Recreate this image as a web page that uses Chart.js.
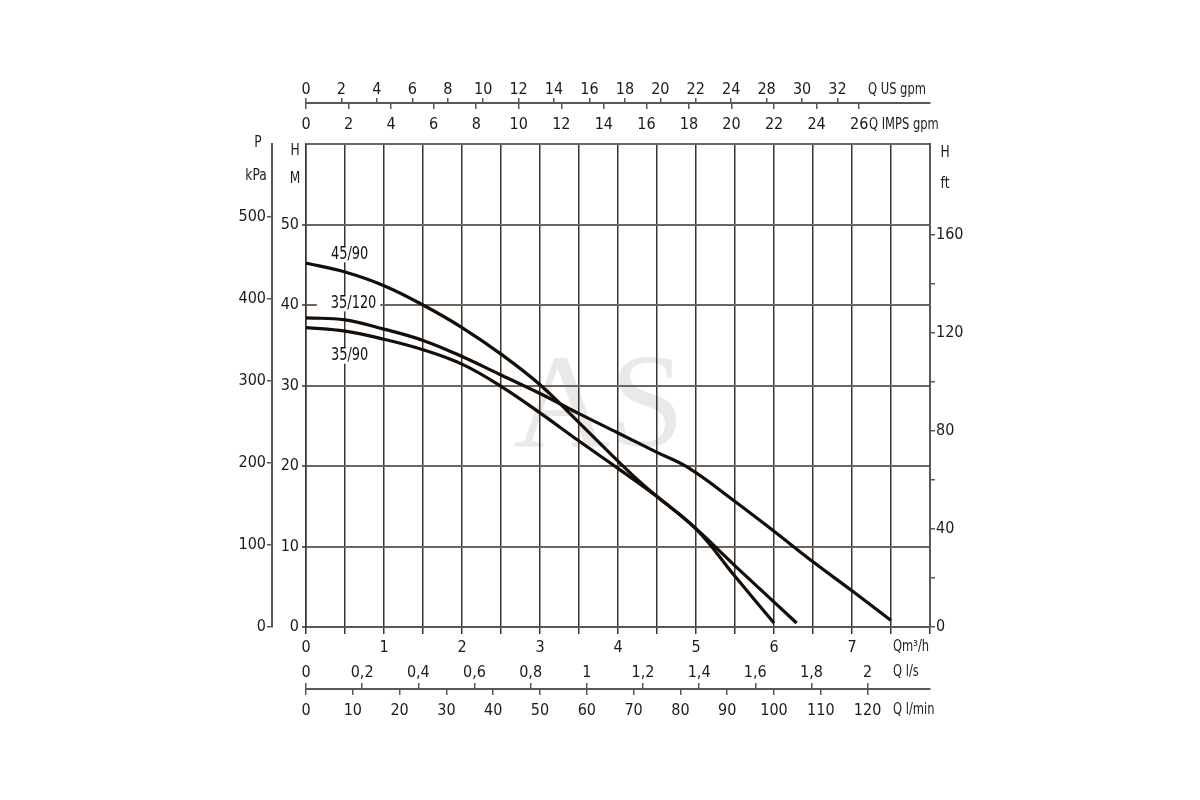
<!DOCTYPE html>
<html>
<head>
<meta charset="utf-8">
<script src="https://cdn.jsdelivr.net/npm/chart.js@4.4.1/dist/chart.umd.min.js"></script>
<style>
html,body{margin:0;padding:0;background:#fff;}
#wrap{width:1200px;height:800px;position:relative;}
canvas{display:block;}
</style>
</head>
<body>
<div id="wrap"><canvas id="c" width="1200" height="800"></canvas></div>
<script>
// ---------- DATA ----------
// Flow Q in m3/h, head H in m
const q4590  = [0, 0.5, 1, 1.5, 2, 2.5, 3, 3.5, 4, 4.25, 4.5, 5, 5.5, 6.0];
const h4590  = [45.2, 44.1, 42.4, 40.0, 37.2, 33.9, 30.1, 25.4, 20.6, 18.3, 16.2, 12.2, 6.3, 0.5];

const q35120 = [0, 0.5, 1, 1.5, 2, 2.5, 3, 3.5, 4, 4.5, 4.9, 5.5, 6, 6.5, 7, 7.5];
const h35120 = [38.4, 38.15, 37.0, 35.6, 33.6, 31.3, 29.0, 26.5, 24.1, 21.7, 19.8, 15.6, 11.9, 8.1, 4.5, 0.8];

const q3590  = [0, 0.5, 1, 1.5, 2, 2.5, 3, 3.5, 4, 4.5, 5, 5.5, 6.29];
const h3590  = [37.2, 36.75, 35.75, 34.45, 32.65, 29.9, 26.6, 23.1, 19.7, 16.2, 12.2, 7.6, 0.5];

const curveNames = ['45/90', '35/120', '35/90'];

// Tick values and labels
const qM3hTicks   = [0,0.5,1,1.5,2,2.5,3,3.5,4,4.5,5,5.5,6,6.5,7,7.5,8];
const qM3hLabels  = ['0','','1','','2','','3','','4','','5','','6','','7','',''];
const usGpmTicks  = [0,2,4,6,8,10,12,14,16,18,20,22,24,26,28,30];
const usGpmLabels = ['0','2','4','6','8','10','12','14','16','18','20','22','24','28','30','32'];
const impGpmTicks = [0,2,4,6,8,10,12,14,16,18,20,22,24,26];
const impGpmLabels= ['0','2','4','6','8','10','12','14','16','18','20','22','24','26'];
const lsTicks     = [0,0.2,0.4,0.6,0.8,1,1.2,1.4,1.6,1.8,2];
const lsLabels    = ['0','0,2','0,4','0,6','0,8','1','1,2','1,4','1,6','1,8','2'];
const lminTicks   = [0,10,20,30,40,50,60,70,80,90,100,110,120];
const lminLabels  = ['0','10','20','30','40','50','60','70','80','90','100','110','120'];
const hmTicks     = [0,10,20,30,40,50,60];
const hmLabels    = ['0','10','20','30','40','50',''];
const kpaTicks    = [0,100,200,300,400,500];
const kpaLabels   = ['0','100','200','300','400','500'];
const ftTicks     = [0,20,40,60,80,100,120,140,160];
const ftLabels    = ['0','','40','','80','','120','','160'];

// Axis ranges (unit conversions of 0..8 m3/h and 0..60 m)
const Q_MAX = 8, H_MAX = 60;
const US_GPM_PER_M3H = 4.40287, IMP_GPM_PER_M3H = 3.66615, LMIN_PER_M3H = 16.6667;
const KPA_PER_M = 9.80665, FT_PER_M = 3.28084;

// ---------- STYLE ----------
const FONT = "'Liberation Sans Narrow','DejaVu Sans Condensed','Roboto Condensed',Roboto,sans-serif";
const TXT = '#1e1a18';
const VGRID = '#3a3430';
const HGRID = '#6e655d';
const AXISLINE = '#5e5650';
const CURVE = '#140d08';

function pts(xs, ys){ return xs.map((x,i)=>({x:x, y:ys[i]})); }
function setTicks(values){ return function(scale){ scale.ticks = values.map(v=>({value:v})); }; }
function lab(arr){ return function(v, i){ return arr[i]; }; }
function fixH(h){ return function(s){ s.height = h; }; }
function fixW(w){ return function(s){ s.width = w; }; }
const font16 = {family: FONT, size: 16};

function narrowText(ctx, str, x, y, align, sx){
  ctx.save();
  ctx.translate(x, y);
  ctx.scale(sx, 1);
  ctx.textAlign = align;
  ctx.fillText(str, 0, 0);
  ctx.restore();
}

const textPlugin = {
  id: 'texts',
  beforeDraw(chart){
    const ctx = chart.ctx;
    ctx.save();
    ctx.fillStyle = '#e9e9e9';
    ctx.font = "134px 'Liberation Serif','DejaVu Serif',serif";
    ctx.textAlign = 'center';
    ctx.textBaseline = 'alphabetic';
    ctx.fillText('AS', 599, 446);
    ctx.restore();
  },
  afterDatasetsDraw(chart){
    const ctx = chart.ctx, xs = chart.scales.x, ys = chart.scales.y;
    const pos = [[0.56, 46.3], [0.61, 40.2], [0.56, 33.7]];
    const SX = 0.8;
    ctx.save();
    ctx.font = "18px " + FONT;
    ctx.textBaseline = 'middle';
    curveNames.forEach((n, i)=>{
      const px = xs.getPixelForValue(pos[i][0]);
      const py = ys.getPixelForValue(pos[i][1]);
      const w = ctx.measureText(n).width * SX;
      ctx.fillStyle = '#fff';
      if (i === 1){
        ctx.fillRect(px - w/2 - 14, py - 8, w + 18, 16);
      } else {
        ctx.fillRect(px - w/2 - 1, py - 8, w + 2, 16);
      }
      ctx.fillStyle = '#141110';
      narrowText(ctx, n, px, py, 'center', SX);
    });
    ctx.restore();
  },
  afterDraw(chart){
    const ctx = chart.ctx;
    ctx.save();
    ctx.fillStyle = TXT;
    ctx.font = "16px " + FONT;
    ctx.textBaseline = 'middle';
    narrowText(ctx, 'Q US gpm', 868, 90, 'left', 0.8);
    narrowText(ctx, 'Q IMPS gpm', 869, 125, 'left', 0.8);
    narrowText(ctx, 'Qm³/h', 893, 647, 'left', 0.8);
    narrowText(ctx, 'Q l/s', 893, 672, 'left', 0.8);
    narrowText(ctx, 'Q l/min', 893, 710, 'left', 0.8);
    narrowText(ctx, 'P', 258, 143, 'center', 0.85);
    narrowText(ctx, 'kPa', 256, 176, 'center', 0.85);
    narrowText(ctx, 'H', 295, 151, 'center', 0.85);
    narrowText(ctx, 'M', 295, 179, 'center', 0.85);
    narrowText(ctx, 'H', 945, 153, 'center', 0.85);
    narrowText(ctx, 'ft', 945, 184, 'center', 0.85);
    ctx.restore();
  }
};

const lineDs = (name, xs, ys) => ({
  label: name,
  data: pts(xs, ys),
  showLine: true,
  borderColor: CURVE,
  borderWidth: 3.2,
  pointRadius: 0,
  tension: 0.4,
  fill: false
});

new Chart(document.getElementById('c'), {
  type: 'scatter',
  data: {
    datasets: [
      lineDs(curveNames[0], q4590, h4590),
      lineDs(curveNames[1], q35120, h35120),
      lineDs(curveNames[2], q3590, h3590)
    ]
  },
  plugins: [textPlugin],
  options: {
    responsive: false,
    animation: false,
    devicePixelRatio: 1,
    layout: { padding: { left: 232, right: 230, top: 76, bottom: 80 } },
    plugins: { legend: {display: false}, tooltip: {enabled: false} },
    scales: {
      x: {
        type: 'linear', position: 'bottom', min: 0, max: Q_MAX, weight: 0,
        afterBuildTicks: setTicks(qM3hTicks), afterFit: fixH(33),
        grid: { color: VGRID, lineWidth: 1.5, tickLength: 7, drawTicks: true },
        border: { display: true, color: AXISLINE, width: 2 },
        ticks: { callback: lab(qM3hLabels), autoSkip: false, maxRotation: 0, padding: 4, color: TXT, font: font16 }
      },
      ls: {
        type: 'linear', position: 'bottom', min: 0, max: Q_MAX / 3.6, weight: 1,
        afterBuildTicks: setTicks(lsTicks), afterFit: fixH(29),
        grid: { drawOnChartArea: false, color: AXISLINE, lineWidth: 1.5, tickLength: 29, tickBorderDash: [0, 23, 6, 1000] },
        border: { display: false },
        ticks: { callback: lab(lsLabels), autoSkip: false, maxRotation: 0, padding: -26, color: TXT, font: font16 }
      },
      lmin: {
        type: 'linear', position: 'bottom', min: 0, max: Q_MAX * LMIN_PER_M3H, weight: 2,
        afterBuildTicks: setTicks(lminTicks), afterFit: fixH(31),
        grid: { drawOnChartArea: false, color: AXISLINE, lineWidth: 1.5, tickLength: 6 },
        border: { display: true, color: AXISLINE, width: 2 },
        ticks: { callback: lab(lminLabels), autoSkip: false, maxRotation: 0, padding: 6, color: TXT, font: font16 }
      },
      impgpm: {
        type: 'linear', position: 'top', min: 0, max: Q_MAX * IMP_GPM_PER_M3H, weight: 0,
        afterBuildTicks: setTicks(impGpmTicks), afterFit: fixH(41),
        grid: { drawOnChartArea: false, color: AXISLINE, lineWidth: 1.5, tickLength: 41, tickBorderDash: [6, 1000] },
        border: { display: false },
        ticks: { callback: lab(impGpmLabels), autoSkip: false, maxRotation: 0, padding: -31, color: TXT, font: font16 }
      },
      usgpm: {
        type: 'linear', position: 'top', min: 0, max: Q_MAX * US_GPM_PER_M3H, weight: 1,
        afterBuildTicks: setTicks(usGpmTicks), afterFit: fixH(27),
        grid: { drawOnChartArea: false, color: AXISLINE, lineWidth: 1.5, tickLength: 5 },
        border: { display: true, color: AXISLINE, width: 2 },
        ticks: { callback: lab(usGpmLabels), autoSkip: false, maxRotation: 0, padding: -1, color: TXT, font: font16 }
      },
      y: {
        type: 'linear', position: 'left', min: 0, max: H_MAX, weight: 0,
        afterBuildTicks: setTicks(hmTicks), afterFit: fixW(34),
        grid: { color: HGRID, lineWidth: 2, tickLength: 4,
                tickColor: (c) => (c.tick && c.tick.value === H_MAX) ? 'rgba(0,0,0,0)' : HGRID },
        border: { display: true, color: VGRID, width: 1.5 },
        ticks: { callback: lab(hmLabels), autoSkip: false, padding: 3, color: TXT, font: font16 }
      },
      kpa: {
        type: 'linear', position: 'left', min: 0, max: H_MAX * KPA_PER_M, weight: 1,
        afterBuildTicks: setTicks(kpaTicks), afterFit: fixW(40),
        grid: { drawOnChartArea: false, color: AXISLINE, lineWidth: 1.5, tickLength: 5 },
        border: { display: true, color: AXISLINE, width: 2 },
        ticks: { callback: lab(kpaLabels), autoSkip: false, padding: 1, color: TXT, font: font16 }
      },
      ft: {
        type: 'linear', position: 'right', min: 0, max: H_MAX * FT_PER_M, weight: 0,
        afterBuildTicks: setTicks(ftTicks), afterFit: fixW(40),
        grid: { drawOnChartArea: false, color: AXISLINE, lineWidth: 1.5, tickLength: 5 },
        border: { display: true, color: AXISLINE, width: 2 },
        ticks: { callback: lab(ftLabels), autoSkip: false, padding: 1, color: TXT, font: font16 }
      }
    }
  }
});
</script>
</body>
</html>
